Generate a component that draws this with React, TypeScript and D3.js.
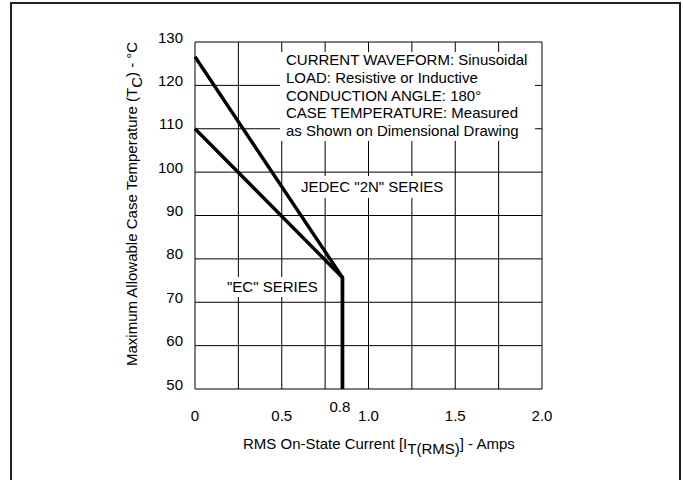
import React from "react";
import * as d3 from "d3";

const W = 683;
const H = 480;

const xDomain = [0, 2.0];
const yDomain = [50, 130];
const xTickValues = [0, 0.5, 1.0, 1.5, 2.0];
const xTickLabels = ["0", "0.5", "1.0", "1.5", "2.0"];
const xGridValues = [0, 0.25, 0.5, 0.75, 1.0, 1.25, 1.5, 1.75, 2.0];
const yTickValues = [50, 60, 70, 80, 90, 100, 110, 120, 130];
const extraTickValue = 0.835;
const extraTickLabel = "0.8";

const jedecX = [0, 0.85, 0.85];
const jedecY = [126.6, 75.7, 50];
const ecX = [0, 0.85, 0.85];
const ecY = [110, 75.7, 50];

const noteLines = [
  "CURRENT WAVEFORM: Sinusoidal",
  "LOAD: Resistive or Inductive",
  "CONDUCTION ANGLE: 180°",
  "CASE TEMPERATURE: Measured",
  "as Shown on Dimensional Drawing",
];

const FONT = "'Liberation Sans', Arial, Helvetica, sans-serif";
const FS = 15;

export default function App() {
  const left = 195, right = 542, top = 42, bottom = 389;
  const x = d3.scaleLinear().domain(xDomain).range([left, right]);
  const y = d3.scaleLinear().domain(yDomain).range([bottom, top]);

  const line = d3
    .line<[number, number]>()
    .x((d) => x(d[0]))
    .y((d) => y(d[1]));

  const jedec = jedecX.map((v, i) => [v, jedecY[i]] as [number, number]);
  const ec = ecX.map((v, i) => [v, ecY[i]] as [number, number]);

  return (
    <svg
      width={W}
      height={H}
      style={{ position: "absolute", left: 0, top: 0, background: "#fff" }}
      fontFamily={FONT}
    >
      <rect x={11} y={3} width={669} height={490} fill="#fff" stroke="#222" strokeWidth={2} />

      {/* grid */}
      {xGridValues.map((v) => (
        <line key={"gx" + v} x1={x(v)} x2={x(v)} y1={top} y2={bottom} stroke="#000" strokeWidth={1} />
      ))}
      {yTickValues.map((v) => (
        <line key={"gy" + v} x1={left} x2={right} y1={y(v)} y2={y(v)} stroke="#000" strokeWidth={1} />
      ))}

      {/* white boxes behind texts */}
      <rect x={280} y={52} width={255} height={89} fill="#fff" />
      <rect x={298} y={176} width={149} height={22} fill="#fff" />
      <rect x={224} y={277} width={96} height={20} fill="#fff" />

      {/* curves */}
      <path d={line(jedec) || ""} fill="none" stroke="#000" strokeWidth={3.4} strokeLinejoin="miter" />
      <path d={line(ec) || ""} fill="none" stroke="#000" strokeWidth={3.4} strokeLinejoin="miter" />

      {/* note text */}
      {noteLines.map((t, i) => (
        <text key={t} x={286} y={65 + i * 17.8} fontSize={FS} fill="#000">
          {t}
        </text>
      ))}
      <text x={301} y={192} fontSize={FS} fill="#000">JEDEC "2N" SERIES</text>
      <text x={227} y={292} fontSize={FS} fill="#000">"EC" SERIES</text>

      {/* y tick labels */}
      {yTickValues.map((v) => (
        <text key={"yt" + v} x={183} y={y(v) + 0.5} fontSize={FS} textAnchor="end" fill="#000">
          {v}
        </text>
      ))}
      {/* x tick labels */}
      {xTickValues.map((v, i) => (
        <text key={"xt" + v} x={x(v)} y={421} fontSize={FS} textAnchor="middle" fill="#000">
          {xTickLabels[i]}
        </text>
      ))}
      <text x={x(extraTickValue)} y={412} fontSize={FS} textAnchor="middle" fill="#000">
        {extraTickLabel}
      </text>

      {/* x title */}
      <text x={243} y={449} fontSize={FS} fill="#000">
        RMS On-State Current [I
        <tspan dy={5}>T(RMS)</tspan>
        <tspan dy={-5}>] - Amps</tspan>
      </text>

      {/* y title */}
      <text transform={`translate(137, 366) rotate(-90)`} fontSize={FS} fill="#000">
        Maximum Allowable Case Temperature (T
        <tspan dy={5}>C</tspan>
        <tspan dy={-5}>) - °C</tspan>
      </text>
    </svg>
  );
}
